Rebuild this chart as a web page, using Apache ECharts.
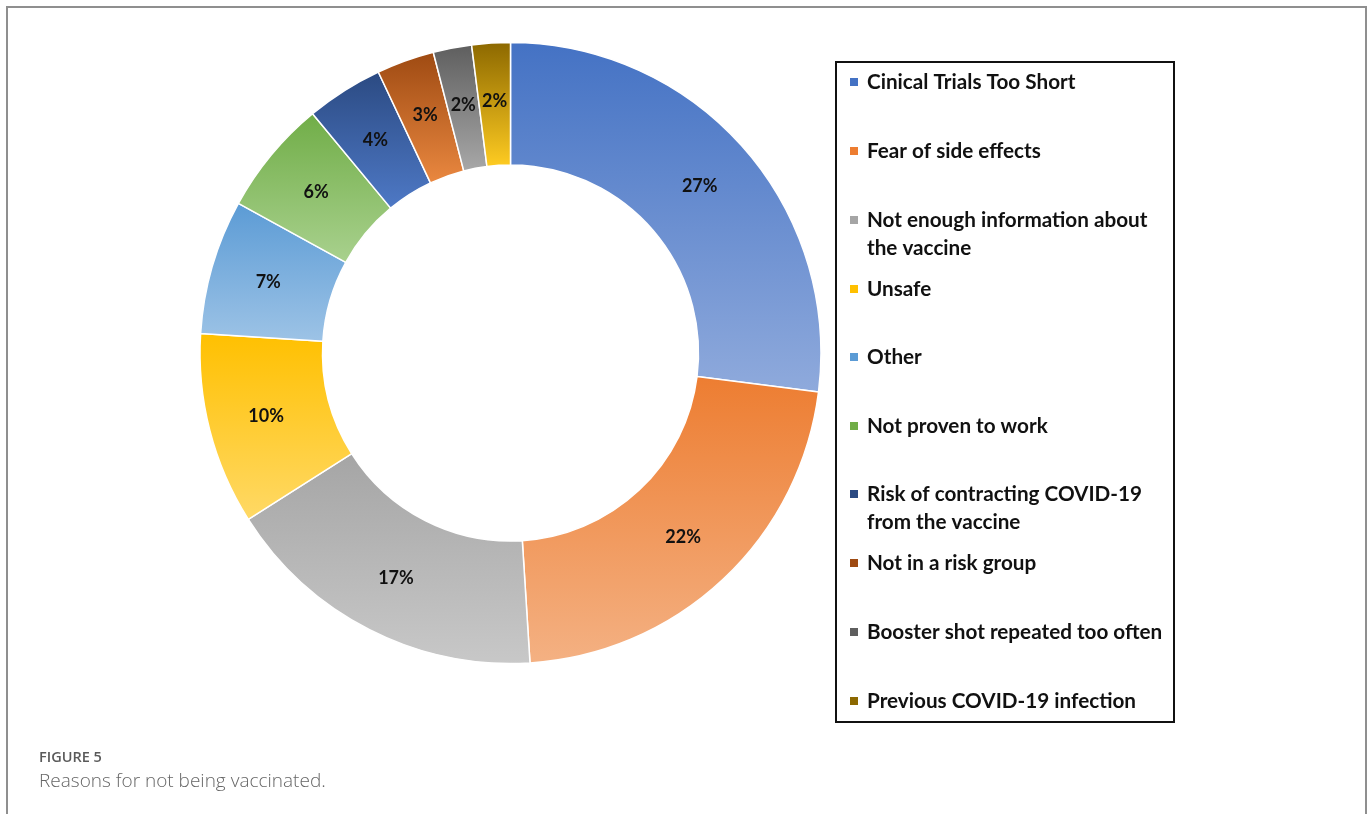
<!DOCTYPE html>
<html>
<head>
<meta charset="utf-8">
<script src="https://cdn.jsdelivr.net/npm/echarts@6/dist/echarts.min.js"></script>
<style>
  html, body { margin: 0; padding: 0; background: #ffffff; }
  #chart { width: 1370px; height: 814px; }
</style>
</head>
<body>
<div id="chart"></div>
<script>
// ---- data ----
const categories = [
  'Cinical Trials Too Short',
  'Fear of side effects',
  'Not enough information about the vaccine',
  'Unsafe',
  'Other',
  'Not proven to work',
  'Risk of contracting COVID-19 from the vaccine',
  'Not in a risk group',
  'Booster shot repeated too often',
  'Previous COVID-19 infection'
];
const values = [27, 22, 17, 10, 7, 6, 4, 3, 2, 2];
const legendLabels = [
  'Cinical Trials Too Short',
  'Fear of side effects',
  'Not enough information about\nthe vaccine',
  'Unsafe',
  'Other',
  'Not proven to work',
  'Risk of contracting COVID-19\nfrom the vaccine',
  'Not in a risk group',
  'Booster shot repeated too often',
  'Previous COVID-19 infection'
];
const darkColors  = ['#4472C4', '#ED7D31', '#A5A5A5', '#FFC000', '#5B9BD5', '#70AD47', '#2B4A82', '#9E4A12', '#5E5E5E', '#8C6800'];
const lightColors = ['#8FAADC', '#F4B183', '#C8C8C8', '#FFD966', '#9DC3E6', '#A9D18E', '#4E79C6', '#EA8840', '#A8A8A8', '#FFCC22'];
const captionTitle = 'FIGURE 5';
const captionText = 'Reasons for not being vaccinated.';

// ---- layout ----
const legendCenters = [82, 151, 220, 289, 357, 426, 494, 563, 632, 701];
const lineH = 28;

const chart = echarts.init(document.getElementById('chart'), null, { renderer: 'canvas' });

const pieData = categories.map((name, i) => ({
  name: name,
  value: values[i],
  itemStyle: {
    color: new echarts.graphic.LinearGradient(0, 0, 0, 1, [
      { offset: 0, color: darkColors[i] },
      { offset: 1, color: lightColors[i] }
    ])
  }
}));

const legends = categories.map((name, i) => {
  const twoLine = legendLabels[i].indexOf('\n') >= 0;
  // two-line labels get a leading empty line so the first text line sits beside the icon
  const label = twoLine ? '\n' + legendLabels[i] : legendLabels[i];
  return {
    orient: 'vertical',
    left: 848,
    top: legendCenters[i] - (twoLine ? 42 : 14),
    itemWidth: 10,
    itemHeight: 10,
    icon: 'rect',
    selectedMode: false,
    padding: 0,
    data: [{ name: name, itemStyle: { color: darkColors[i] } }],
    formatter: () => label,
    textStyle: {
      fontFamily: 'Lato',
      fontWeight: 'bold',
      fontSize: 20.7,
      color: '#111',
      lineHeight: lineH,
      padding: [0, 0, 0, 3]
    }
  };
});

const option = {
  backgroundColor: '#ffffff',
  animation: false,
  title: {
    text: captionTitle,
    subtext: captionText,
    left: 39,
    top: 750,
    padding: 0,
    itemGap: 5,
    textStyle: { fontFamily: 'Open Sans', fontSize: 14.5, fontWeight: 600, color: '#5a5a5a', lineHeight: 16 },
    subtextStyle: { fontFamily: 'Open Sans', fontSize: 19, fontWeight: 300, color: '#666666', lineHeight: 22 }
  },
  legend: legends,
  graphic: [
    {
      type: 'rect',
      shape: { x: 7, y: 7, width: 1359, height: 840 },
      style: { fill: 'none', stroke: '#8f8f8f', lineWidth: 2 },
      silent: true,
      z: -1
    },
    {
      type: 'rect',
      shape: { x: 836, y: 62, width: 338, height: 660 },
      style: { fill: 'none', stroke: '#111', lineWidth: 2 },
      silent: true
    }
  ],
  series: [{
    type: 'pie',
    center: [510.5, 353],
    radius: [188, 310.5],
    startAngle: 90,
    clockwise: true,
    avoidLabelOverlap: false,
    itemStyle: { borderColor: '#ffffff', borderWidth: 1.5 },
    label: {
      show: true,
      position: 'inside',
      formatter: '{c}%',
      fontFamily: 'Lato',
      fontWeight: 'bold',
      fontSize: 18,
      color: '#111'
    },
    labelLine: { show: false },
    emphasis: { disabled: true },
    data: pieData
  }]
};

chart.setOption(option);
</script>
</body>
</html>
